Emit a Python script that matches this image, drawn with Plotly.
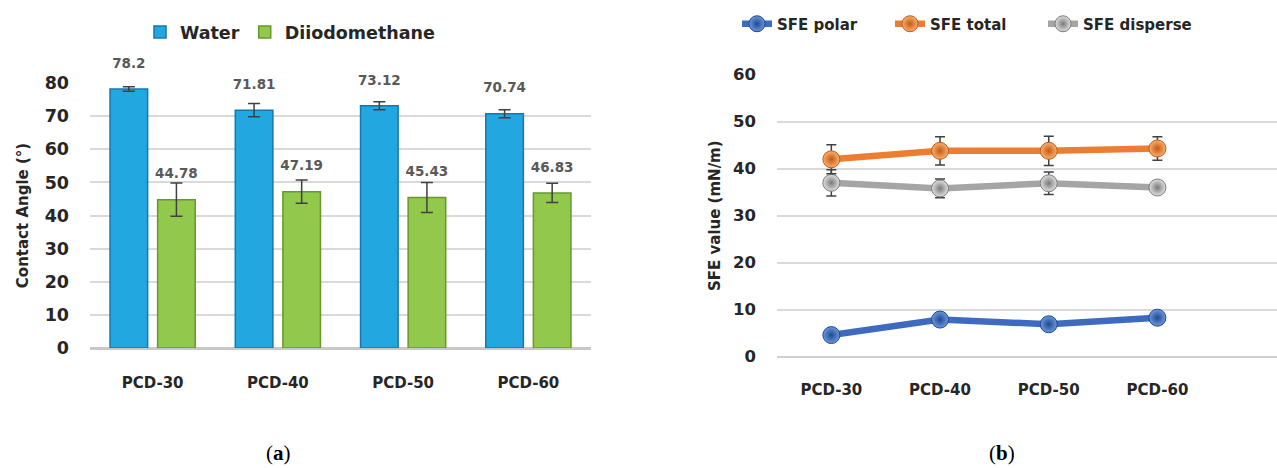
import plotly.graph_objects as go

# ---- data ----
categories = ["PCD-30", "PCD-40", "PCD-50", "PCD-60"]
water = [78.2, 71.81, 73.12, 70.74]
water_err = [0.7, 2.0, 1.2, 1.2]
diiodo = [44.78, 47.19, 45.43, 46.83]
diiodo_err = [5.0, 3.5, 4.5, 2.9]

sfe_polar = [4.6, 7.9, 6.9, 8.3]
sfe_total = [42.0, 43.8, 43.8, 44.3]
sfe_total_err = [3.1, 3.0, 3.1, 2.5]
sfe_disperse = [37.0, 35.8, 36.9, 36.0]
sfe_disperse_err = [2.8, 2.0, 2.4, 1.0]

left_ticks = [0, 10, 20, 30, 40, 50, 60, 70, 80]
right_ticks = [0, 10, 20, 30, 40, 50, 60]

W, H = 1277, 468
FONT = "DejaVu Sans"
DARK = "#262626"
idx = list(range(len(categories)))
off = 0.19
bw = 0.30

fig = go.Figure()

# ---- left: bars ----
wx = [i - off for i in idx]
dx = [i + off for i in idx]
fig.add_trace(go.Bar(
    x=wx, y=water, width=bw, name="Water",
    marker=dict(color="#22A7E0", line=dict(color="#1677AD", width=1.5)),
    error_y=dict(type="data", array=water_err, color="#404040", thickness=1.5, width=6),
    xaxis="x", yaxis="y", legend="legend"))
fig.add_trace(go.Bar(
    x=dx, y=diiodo, width=bw, name="Diiodomethane",
    marker=dict(color="#92C84B", line=dict(color="#66982E", width=1.5)),
    error_y=dict(type="data", array=diiodo_err, color="#404040", thickness=1.5, width=6),
    xaxis="x", yaxis="y", legend="legend"))
# data labels above the bars
fig.add_trace(go.Scatter(
    x=wx + dx,
    y=water + diiodo,
    text=[f"{v}" for v in water] + [f"{v}" for v in diiodo],
    mode="markers+text", textposition="top center",
    marker=dict(size=27, opacity=0),
    textfont=dict(family=FONT, size=13.5, color="#595959", weight="bold"),
    showlegend=False, hoverinfo="skip", cliponaxis=False,
    xaxis="x", yaxis="y"))

# ---- right: lines ----
def sfe_trace(y, name, col, light, dark, err=None):
    return go.Scatter(
        x=idx, y=y, name=name, mode="lines+markers",
        line=dict(color=col, width=6.5),
        marker=dict(size=17, color=light,
                    gradient=dict(type="radial", color=dark),
                    line=dict(color=dark, width=1)),
        error_y=(dict(type="data", array=err, color="#404040", thickness=1.5, width=5)
                 if err else dict(visible=False)),
        xaxis="x2", yaxis="y2", legend="legend2", cliponaxis=False)

fig.add_trace(sfe_trace(sfe_disperse, "SFE disperse", "#A5A5A5", "#E0E0E0", "#7A7A7A", sfe_disperse_err))
fig.add_trace(sfe_trace(sfe_total, "SFE total", "#ED7D31", "#F9B070", "#C55A11", sfe_total_err))
fig.add_trace(sfe_trace(sfe_polar, "SFE polar", "#3D6BBF", "#6D98DD", "#1F4A90"))

tickfont_l = dict(family=FONT, size=17.5, color=DARK, weight="bold")
tickfont_r = dict(family=FONT, size=16.5, color=DARK, weight="bold")
catfont = dict(family=FONT, size=15, color=DARK, weight="bold")
titlefont = dict(family=FONT, size=15, color=DARK, weight="bold")

def py(p):
    return (H - p) / H

fig.update_layout(
    template="none",
    width=W, height=H,
    margin=dict(l=0, r=0, t=0, b=0, autoexpand=False),
    paper_bgcolor="white", plot_bgcolor="white",
    barmode="overlay",
    xaxis=dict(domain=[90 / W, 591 / W], range=[-0.5, 3.5], automargin=False,
               tickvals=idx, ticktext=categories, tickfont=catfont,
               showgrid=False, zeroline=False, showline=False, ticks="",
               ticklabelstandoff=24, fixedrange=True),
    yaxis=dict(domain=[py(348), py(83)], range=[0, 80], tickvals=left_ticks, automargin=False,
               tickfont=tickfont_l, showgrid=True, gridcolor="#D9D9D9", gridwidth=1.5,
               zeroline=True, zerolinecolor="#C8C8C8", zerolinewidth=3,
               showline=False, ticks="", ticklabelstandoff=20,
               title=dict(text="Contact Angle (°)", font=titlefont, standoff=12)),
    xaxis2=dict(domain=[777 / W, 1.0], range=[-0.5, 4.1], automargin=False,
                tickvals=idx, ticktext=categories, tickfont=catfont,
                showgrid=False, zeroline=False, showline=False, ticks="",
                ticklabelstandoff=22, anchor="y2"),
    yaxis2=dict(domain=[py(356.7), py(74.7)], range=[0, 60], tickvals=right_ticks,
                automargin=False,
                tickfont=tickfont_r, showgrid=True, gridcolor="#D9D9D9", gridwidth=1.5,
                zeroline=True, zerolinecolor="#D0D0D0", zerolinewidth=2,
                showline=False, ticks="", ticklabelstandoff=20, anchor="x2",
                title=dict(text="SFE value (mN/m)", font=titlefont, standoff=8)),
    legend=dict(orientation="h", x=140 / W, y=py(32), xanchor="left", yanchor="middle",
                font=dict(family=FONT, size=17.5, color=DARK, weight="bold"),
                bgcolor="rgba(0,0,0,0)", traceorder="normal"),
    legend2=dict(orientation="h", x=737 / W, y=py(24), xanchor="left", yanchor="middle",
                 font=dict(family=FONT, size=15, color=DARK, weight="bold"),
                 bgcolor="rgba(0,0,0,0)", traceorder="reversed", entrywidth=108),
    annotations=[
        dict(text="(<b>a</b>)", x=278 / W, y=py(453), xref="paper", yref="paper",
             xanchor="center", yanchor="middle",
             showarrow=False, font=dict(family="Liberation Serif", size=21, color="black")),
        dict(text="(<b>b</b>)", x=1002 / W, y=py(453), xref="paper", yref="paper",
             xanchor="center", yanchor="middle",
             showarrow=False, font=dict(family="Liberation Serif", size=21, color="black")),
    ],
    showlegend=True,
)

fig.write_html("out.html")
